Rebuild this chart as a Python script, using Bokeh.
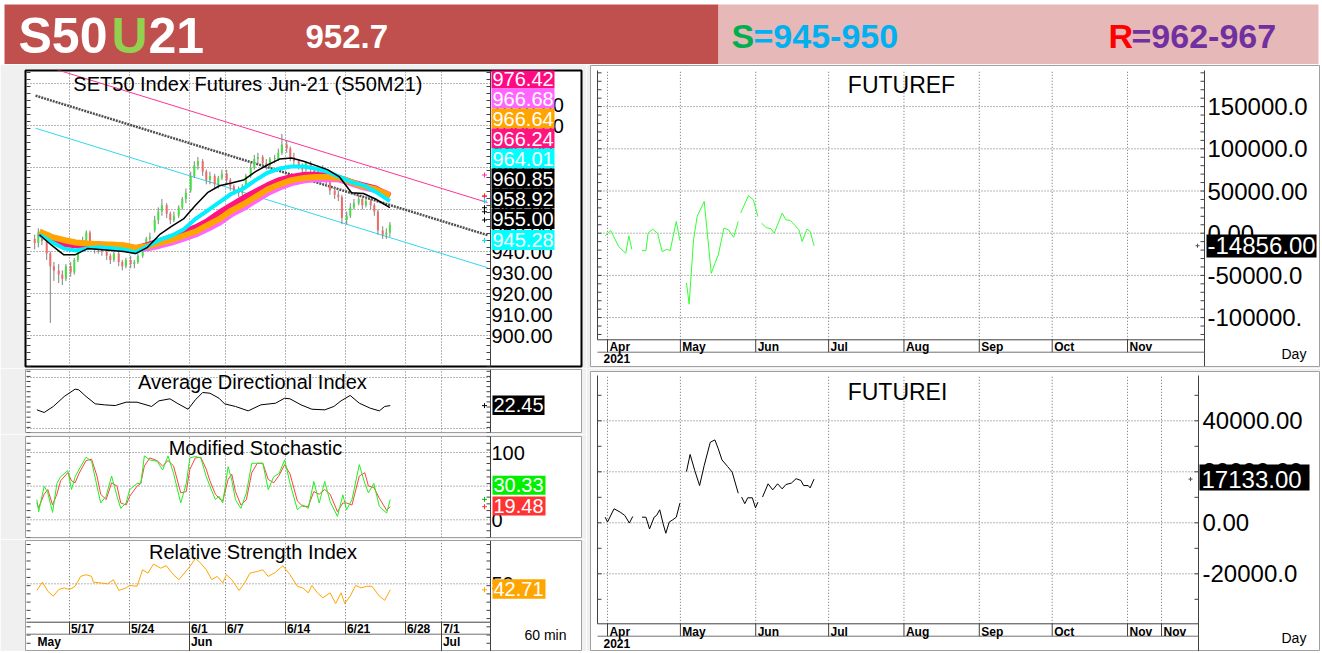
import numpy as np
from bokeh.plotting import figure
from bokeh.models import Range1d
from bokeh.layouts import column, row
from bokeh.embed import file_html
from bokeh.resources import INLINE
from bokeh.core.properties import value

NaN = float("nan")

# ======================= DATA =======================
# ---- header ----
symbol_parts = ["S50", "U", "21"]
last_price = "952.7"
support_lab = ["S", "=945-950"]
resist_lab = ["R", "=962-967"]

# ---- left chart: 60 min bars, x = trading-day index (0 = 5/17) ----
main_title = "SET50  Index  Futures  Jun-21  (S50M21)"
adx_title = "Average  Directional  Index"
sto_title = "Modified  Stochastic"
rsi_title = "Relative  Strength  Index"
interval_lab = "60  min"

date_tick_idx = [0, 5, 10, 13, 18, 23, 28, 31]
date_tick_lab = ["5/17", "5/24", "6/1", "6/7", "6/14", "6/21", "6/28", "7/1"]
month_tick_idx = [10, 31]
month_tick_lab = ["Jun", "Jul"]
first_month_lab = "May"

bar_days = list(range(-3, 27))
bar_slots = [0.1, 0.4, 0.7]
bar_open = [946, 944, 949, 945, 939, 933, 931, 929, 927, 933, 930, 936, 941, 945, 949,
            944, 941, 943, 940, 938, 936, 939, 935, 933, 936, 934, 935, 938, 942, 946,
            950, 955, 959, 962, 958, 955, 957, 961, 965, 969, 976, 981, 983, 978, 974,
            976, 972, 975, 977, 974, 971, 969, 968, 971, 976, 980, 984, 985, 982, 981,
            984, 984, 987, 991, 989, 985, 983, 981, 979, 982, 979, 977, 980, 977, 973,
            969, 967, 966, 955, 957, 961, 963, 965, 962, 964, 962, 959, 950, 948, 949]
bar_high = [948, 951, 950, 946, 940, 935, 934, 931, 934, 935, 937, 942, 947, 950, 950,
            945, 944, 944, 941, 939, 940, 940, 936, 937, 938, 936, 939, 943, 947, 949,
            957, 961, 965, 963, 959, 959, 962, 966, 970, 978, 983, 985, 984, 979, 978,
            977, 976, 979, 979, 975, 972, 971, 972, 977, 982, 986, 987, 986, 984, 985,
            986, 989, 996, 993, 990, 987, 984, 982, 983, 983, 980, 981, 981, 978, 974,
            971, 969, 967, 959, 963, 965, 967, 966, 966, 965, 963, 960, 952, 951, 954]
bar_low = [941, 942, 943, 936, 906, 926, 925, 924, 926, 928, 929, 935, 940, 944, 942,
           939, 939, 938, 936, 934, 935, 933, 931, 932, 932, 932, 934, 937, 941, 944,
           949, 953, 957, 956, 953, 954, 956, 960, 963, 968, 975, 979, 976, 972, 972,
           970, 970, 974, 972, 969, 967, 966, 967, 970, 975, 979, 982, 980, 979, 980,
           982, 983, 986, 987, 983, 981, 979, 977, 978, 977, 975, 976, 975, 971, 967,
           965, 964, 953, 953, 956, 960, 962, 960, 961, 960, 957, 948, 946, 946, 947]
bar_close = [944, 949, 945, 939, 933, 931, 929, 927, 933, 930, 936, 941, 945, 949, 944,
             941, 943, 940, 938, 936, 939, 935, 933, 936, 934, 935, 938, 942, 946, 947,
             955, 959, 962, 958, 955, 957, 961, 965, 968, 976, 981, 983, 978, 974, 976,
             972, 975, 977, 974, 971, 969, 968, 971, 976, 980, 984, 985, 982, 981, 984,
             984.5, 987, 991, 989, 985, 983, 981, 979, 982, 979, 977, 980, 977, 973, 969,
             967, 966, 956, 957, 961, 963, 965, 962, 964, 962, 959, 950, 948, 949, 952.7]

price_ticks = [900, 910, 920, 930, 940, 950, 960, 970, 980, 990, 1000, 1010]
price_grid = [900, 920, 940, 960, 980, 1000, 1020]

chan_x = [-2.83, 34.83]
chan_mid = [1014.2, 947.8]
chan_up = [1029.7, 963.3]
chan_lo = [998.7, 932.3]

ma_days = list(np.arange(-2.5, 25.6, 1.0)) + [26.7]
ma_black = [948, 943, 938.5, 938.5, 941.4, 941, 940.5, 940, 939, 942, 948, 952, 955.5, 962, 968,
            971.3, 972.6, 974, 978, 981.2, 984, 984.5, 983, 981, 979, 975.5, 968, 967.6, 965, 960.85]
ma_cyan = [948, 944.5, 941.5, 940.5, 941.5, 942, 941.5, 941, 939.5, 942.5, 945.5, 947.5, 950.5, 955.5, 959.5,
           963.5, 967.5, 970, 974, 977.5, 979.5, 980.5, 980.5, 979.5, 978, 975.5, 973, 971.5, 968.5, 964.01]
ma_pink = [948.5, 945.5, 943.5, 943, 943, 943.3, 943, 942.5, 941.5, 943, 945, 947, 949, 951.5, 954.5,
           958.5, 962, 965.5, 968.5, 971.5, 974, 975.5, 976.5, 976.5, 976, 975, 973, 971.5, 970, 966.24]
ma_orange = [949.5, 947, 945.5, 944.3, 943.8, 943.5, 943.3, 943, 941.8, 942.5, 944, 945.5, 947.5, 949.5, 952.5,
             955.5, 959.5, 962.5, 966, 969.5, 972, 974, 975, 975.5, 975.5, 975, 973, 971, 969.7, 966.64]
ma_violet = [949, 946.5, 945, 944, 943.3, 943, 942.8, 942.5, 941.3, 941.8, 943, 944.5, 946.3, 948.3, 951,
             954, 958, 961, 964.5, 968, 970.7, 972.8, 974, 974.7, 974.8, 974.5, 972.7, 970.8, 969.5, 966.68]

main_tags = ["976.42", "966.68", "966.64", "966.24", "964.01", "960.85", "958.92", "955.00", "945.28"]
main_tag_colors = ["#FF0A80", "#FF66FF", "#FFA500", "#FF1480", "#00FFFF", "#000000", "#000000", "#000000", "#00FFFF"]
main_arrow_colors = ["#FF3399", "#FF66FF", "#FF8C00", "#FF1480", "#00DDEE", "#000000", "#000000", "#000000", "#00DDEE"]

adx_x = [-2.72, -2.11, -1.35, -0.44, 0.47, 0.77, 1.38, 2.14, 2.90, 3.81, 4.72, 5.63, 6.84, 7.45, 8.37,
         8.97, 9.88, 10.49, 11.10, 11.70, 12.46, 12.92, 13.83, 14.89, 15.95, 17.17, 17.92, 18.38, 19.29,
         20.20, 21.27, 22.03, 22.63, 23.39, 24.15, 25.06, 25.82, 26.27, 26.73]
adx_v = [18.3, 15.7, 21.6, 31.4, 38.6, 37.9, 31.4, 24.2, 23.2, 22.5, 25.8, 25.8, 21.6, 27.1, 29.1,
         24.8, 18.9, 28.1, 35.3, 34.6, 29.7, 24.2, 21.6, 17.3, 23.2, 24.8, 29.7, 29.1, 23.2,
         18.9, 18.3, 21.6, 27.1, 32.4, 24.8, 19.9, 17.3, 21.6, 22.45]
adx_grid = [0, 50]
adx_last = "22.45"

sto_x = [-2.72, -2.57, -2.11, -1.81, -1.41, -1.05, -0.74, -0.14, 0.17, 0.47,
         0.77, 1.38, 1.84, 2.29, 2.60, 3.05, 3.51, 3.96, 4.27, 4.72,
         5.02, 5.63, 5.94, 6.24, 6.69, 7.30, 7.76, 8.21, 8.67, 9.27,
         9.73, 10.03, 10.49, 10.94, 11.40, 11.70, 12.16, 12.46, 12.77, 13.22,
         13.52, 13.83, 14.28, 14.74, 15.19, 15.65, 16.11, 16.56, 17.02, 17.47,
         17.93, 18.38, 18.99, 19.44, 19.90, 20.36, 20.81, 21.27, 21.72, 22.33,
         22.78, 23.09, 23.54, 24.15, 24.61, 24.91, 25.36, 25.82, 26.43, 26.73]
sto_k = [30, 12, 50, 40, 11, 54, 64, 73, 45, 64,
         74, 93, 87, 50, 25, 35, 65, 35, 17, 25,
         45, 54, 54, 95, 89, 87, 74, 95, 69, 25,
         54, 92, 94, 92, 64, 50, 30, 35, 25, 79,
         59, 30, 17, 40, 84, 84, 84, 45, 64, 69,
         89, 54, 15, 22, 17, 57, 25, 57, 27, 5,
         37, 15, 30, 82, 54, 40, 54, 20, 10, 30.33]
sto_d = [25, 18, 38, 45, 22, 38, 58, 70, 58, 55,
         68, 88, 90, 65, 38, 30, 55, 50, 25, 22,
         35, 50, 54, 80, 92, 88, 80, 88, 80, 40,
         42, 75, 92, 93, 75, 58, 38, 32, 28, 60,
         68, 42, 22, 30, 70, 84, 84, 60, 55, 66,
         82, 68, 28, 20, 20, 42, 38, 45, 38, 12,
         25, 25, 22, 65, 70, 50, 48, 32, 14, 19.48]
sto_grid = [0, 50, 100]
sto_ticks = [100, 0]
sto_tags = ["30.33", "19.48"]

rsi_x = [-2.72, -2.26, -1.81, -1.35, -0.90, -0.44, 0.01, 0.47, 0.93, 1.38,
         1.84, 1.99, 2.60, 3.20, 3.66, 4.11, 4.72, 5.02, 5.63, 6.09,
         6.54, 7.00, 7.60, 8.06, 8.67, 9.12, 9.58, 10.03, 10.49, 10.94,
         11.40, 11.85, 12.31, 12.77, 13.07, 13.52, 14.13, 14.59, 15.04, 15.65,
         16.11, 16.56, 17.17, 17.78, 18.38, 18.99, 19.44, 19.90, 20.20, 20.66,
         21.11, 21.72, 22.18, 22.63, 22.94, 23.39, 23.85, 24.30, 24.76, 25.21,
         25.82, 26.27, 26.73]
rsi_v = [42, 52, 41, 35, 43, 45, 43, 47, 59, 61,
         59, 52, 51, 50, 55, 42, 45, 48, 47, 67,
         63, 74, 69, 72, 61, 55, 63, 71, 81, 75,
         67, 55, 59, 51, 61, 55, 42, 51, 63, 65,
         67, 59, 64, 72, 61, 47, 45, 39, 48, 39,
         33, 39, 26, 39, 26, 35, 48, 45, 47, 47,
         35, 30, 42.71]
rsi_grid = [50]
rsi_ticks = [50]
rsi_last = "42.71"

# ---- right charts: daily, x = days since 2021-04-01 ----
fut_month_days = [0, 30, 61, 91, 122, 153, 183, 214]
fut_month_lab = ["Apr", "May", "Jun", "Jul", "Aug", "Sep", "Oct", "Nov"]
futi_extra_month_days = [228]
futi_extra_month_lab = ["Nov"]
year_lab = "2021"
period_lab = "Day"

futf_title = "FUTUREF"
futf_day = [-0.96, 1.35, 4.6, 7.5, 8.8, 10.0, NaN,
            14.2, 15.8, 16.7, 18.6, 20.6, 22.5, 24.4, 25.8, 28.3, 29.8, NaN,
            32.5, 33.6, 35.4, 36.9, 39.8, 42.7, 44.2, 45.6, 47.9, 49.8, 51.9, 53.8, NaN,
            54.8, 58.0, 60.0, 61.9, NaN,
            63.4, 65.3, 67.3, 68.6, 71.9, 73.4, 75.3, 77.3, 78.8, 80.1, 82.1, 83.4, 85.0]
futf_val = [-3200, 3200, -15900, -23800, -3200, -19000, NaN,
            -20600, -20600, 0, 4800, 0, -21800, -19000, -20600, 13900, -8700, NaN,
            -58700, -84100, -7900, 19800, 37700, -47600, -35700, -25800, 6000, 4000, -4800, 13900, NaN,
            23800, 44400, 39700, 19800, NaN,
            11900, 6700, 5200, 0, 23800, 15900, 15100, 8700, 4000, -9900, 4800, 2000, -14856]
futf_ticks = [150000, 100000, 50000, 0, -50000, -100000]
futf_tick_lab = ["150000.0", "100000.0", "50000.00", "0.00", "-50000.0", "-100000."]
futf_last = -14856.00
futf_last_lab = "-14856.00"

futi_title = "FUTUREI"
futi_day = [-0.96, 0.0, 2.7, 5.2, 7.1, 9.0, 10.4, NaN,
            14.2, 15.8, 17.3, 19.2, 20.2, 21.5, 22.9, 24.0, 25.4, 26.9, 28.3, 29.8, NaN,
            32.5, 34.0, 35.9, 37.9, 39.8, 42.3, 44.2, 45.6, 47.1, 49.4, 51.3, 53.8, NaN,
            55.2, 56.5, 57.7, 59.6, 60.9, 61.9, NaN,
            63.8, 66.1, 68.0, 70.0, 71.9, 73.4, 75.7, 77.6, 79.6, 80.7, 82.6, 83.4, 85.0]
futi_val = [2200, 300, 5500, 4200, 2900, -100, 2500, NaN,
            2200, 2200, -2400, 2200, 2900, 5100, -400, -4100, 300, 1200, 2200, 7700, NaN,
            20100, 26800, 20500, 14600, 22500, 31600, 32500, 29000, 24700, 22100, 19900, 11600, NaN,
            10100, 7500, 9800, 9800, 5900, 8100, NaN,
            10100, 15300, 12900, 15300, 13300, 15000, 15600, 17300, 16600, 14600, 14600, 13700, 17133]
futi_ticks = [40000, 20000, 0, -20000]
futi_tick_lab = ["40000.00", "20000.00", "0.00", "-20000.0"]
futi_last = 17133.00
futi_last_lab = "17133.00"

# ======================= LAYOUT / STYLE =======================
OX, OY = 0, 0            # page origin (the page renders without a body margin)
PR, PB = 1320, 651       # right / bottom page edge
FONT = "Liberation Sans"
GRID = "#6E6E6E"
AXC = "#404040"
PANEL_BG = "#F0F0F0"


def mk(w, h, xr, yr, bl, br, bt, bb, outline="#A0A0A0", ow=1):
    return figure(width=w, height=h, x_range=Range1d(*xr), y_range=Range1d(*yr),
                  x_axis_type=None, y_axis_type=None, toolbar_location=None,
                  output_backend="svg", title=None,
                  min_border_left=bl, min_border_right=br, min_border_top=bt, min_border_bottom=bb,
                  background_fill_color="white", border_fill_color=PANEL_BG,
                  outline_line_color=outline, outline_line_width=ow)


def txt(p, xs, ys, ts, size, color="black", align="left", base="middle", style="normal"):
    p.text(x=list(xs), y=list(ys), text=list(ts), text_font=value(FONT), text_font_size=size,
           text_color=color, text_align=align, text_baseline=base, text_font_style=style)


def seg(p, x0, y0, x1, y1, color, width=1, dash="solid"):
    p.segment(x0=list(x0), y0=list(y0), x1=list(x1), y1=list(y1),
              line_color=color, line_width=width, line_dash=dash)


# ---------------- header ----------------
hdr = figure(width=PR - OX, height=64 - OY, x_range=Range1d(OX, PR), y_range=Range1d(64, OY),
             x_axis_type=None, y_axis_type=None, toolbar_location=None, output_backend="svg",
             title=None, min_border_left=0, min_border_right=0, min_border_top=0, min_border_bottom=0,
             background_fill_color="white", border_fill_color="white", outline_line_color=None)
hdr.quad(left=[4, 718], right=[718, 1318], top=[4, 4], bottom=[64, 64],
         fill_color=["#C0504D", "#E6B8B7"], line_color=None)
txt(hdr, [18, 111, 148], [35, 35, 35], symbol_parts, "50px",
    color=["white", "#92D050", "white"], style="bold")
txt(hdr, [305], [36], [last_price], "33px", "white", style="bold")
txt(hdr, [731, 753], [35, 35], support_lab, "34px", ["#00B050", "#00B0F0"], style="bold")
txt(hdr, [1108, 1131], [35, 35], resist_lab, "34px", ["#FF0000", "#7030A0"], style="bold")

# ---------------- left panels ----------------
LW = 586 - OX


def mxp(px):
    return (px - 69.0) / 12.0


XR_L = (mxp(25), mxp(581))
nd = len(date_tick_idx)


def left_common(p, yconv, top_px, bot_px, grid_bot_px, hgrid, tick_step):
    yb, yt = yconv(bot_px), yconv(top_px)
    gb = yconv(grid_bot_px)
    seg(p, date_tick_idx, [gb] * nd, date_tick_idx, [yt] * nd, GRID, 1, "1 2")
    seg(p, [mxp(27)] * len(hgrid), hgrid, [mxp(490)] * len(hgrid), hgrid, GRID, 1, "1 2")
    seg(p, [mxp(490)], [yb], [mxp(490)], [yt], AXC)
    lo, hi = min(yb, yt), max(yb, yt)
    tk = list(np.arange(lo, hi, tick_step))
    seg(p, [mxp(26)] * len(tk), tk, [mxp(30)] * len(tk), tk, AXC)
    seg(p, [mxp(486)] * len(tk), tk, [mxp(490)] * len(tk), tk, AXC)


def tag_boxes(p, yconv, x0px, x1px, tops_px, bots_px, colors, labels, ys_px, tcolor="white"):
    p.quad(left=[mxp(x0px)] * len(labels), right=[mxp(x1px)] * len(labels),
           top=[yconv(t) for t in tops_px], bottom=[yconv(b) for b in bots_px],
           fill_color=colors, line_color=None)
    txt(p, [mxp(x0px + 1)] * len(labels), [yconv(y) for y in ys_px], labels, "20px", tcolor)


# ---- main price chart ----
def myp(py):
    return 900.0 + (335.0 - py) / 2.1


main = mk(LW, 304, XR_L, (myp(366), myp(70)), 25 - OX, 5, 6, 2, "black", 2)
left_common(main, myp, 70, 366, 366, price_grid, 10 / 3.0)
main.line(chan_x, chan_up, line_color="#FF3399", line_width=1)
main.line(chan_x, chan_lo, line_color="#33D6F0", line_width=1)
main.line(chan_x, chan_mid, line_color="#505050", line_width=2.5, line_dash="2 1")

bx = list(np.repeat(bar_days, len(bar_slots)) + np.tile(bar_slots, len(bar_days)))
bcol = ["#44E044" if c > o else ("#F06A6A" if c < o else "#888888") for o, c in zip(bar_open, bar_close)]
main.segment(x0=bx, y0=bar_low, x1=bx, y1=bar_high, line_color="#808080", line_width=1)
main.segment(x0=bx, y0=bar_open, x1=bx, y1=bar_close, line_color=bcol, line_width=2)

main.line(ma_days, ma_violet, line_color="#FF66FF", line_width=7)
main.line(ma_days, ma_pink, line_color="#FF1480", line_width=6)
main.line(ma_days, ma_orange, line_color="#FFA500", line_width=6)
main.line(ma_days, ma_cyan, line_color="#00F0FF", line_width=4)
main.line(ma_days, ma_black, line_color="black", line_width=1.5)

txt(main, [mxp(491)] * len(price_ticks), price_ticks, ["%.2f" % v for v in price_ticks], "20px")
tag_ctr = [78, 98, 118, 138, 158, 178, 198, 218.5, 239.5]
tag_boxes(main, myp, 491, 554, [c - 10 for c in tag_ctr], [c + 10 for c in tag_ctr],
          main_tag_colors, main_tags, tag_ctr)
main.scatter([mxp(484)] * len(main_tags), [float(t) for t in main_tags], marker="cross", size=5,
             line_color=main_arrow_colors)
txt(main, [mxp(258.5)], [myp(83.5)], [main_title], "20px", align="center")


# ---- ADX ----
def ayp(py):
    return (428.0 - py) / 1.02


adx = mk(LW, 66, XR_L, (ayp(432), ayp(369)), 25 - OX, 5, 1, 2)
left_common(adx, ayp, 369, 432, 432, adx_grid, 5)
adx.line(adx_x, adx_v, line_color="black", line_width=1)
tag_boxes(adx, ayp, 492, 544, [395], [414.5], ["black"], [adx_last], [404.8])
adx.scatter([mxp(484)], [float(adx_last)], marker="cross", size=5, line_color="black")
txt(adx, [mxp(257.5)], [ayp(381)], [adx_title], "20px", align="center")


# ---- Stochastic ----
def syp(py):
    return (519.3 - py) / 0.673


sto = mk(LW, 105, XR_L, (syp(537), syp(436)), 25 - OX, 5, 2, 2)
left_common(sto, syp, 436, 537, 537, sto_grid, 10)
sto.line(sto_x, sto_d, line_color="#FF4040", line_width=1)
sto.line(sto_x, sto_k, line_color="#22EE22", line_width=1)
txt(sto, [mxp(491)] * len(sto_ticks), sto_ticks, [str(v) for v in sto_ticks], "20px")
tag_boxes(sto, syp, 492, 545, [475.3, 496], [494.3, 515], ["#00F000", "#FF3333"], sto_tags, [484.8, 505.5])
sto.scatter([mxp(484)] * 2, [float(t) for t in sto_tags], marker="cross", size=5,
            line_color=["#00C000", "#FF3333"])
txt(sto, [mxp(257.7)], [syp(447)], [sto_title], "20px", align="center")


# ---- RSI + date axis ----
def ryp(py):
    return 50.0 + (583.3 - py) / 0.823


rsi = mk(LW, PB - 539, XR_L, (ryp(PB), ryp(540)), 25 - OX, 5, 1, 0)
left_common(rsi, ryp, 540, PB, 621.7, rsi_grid, 10)
rsi.line(rsi_x, rsi_v, line_color="#FFA500", line_width=1)
txt(rsi, [mxp(491)] * len(rsi_ticks), rsi_ticks, [str(v) for v in rsi_ticks], "20px")
tag_boxes(rsi, ryp, 492, 545, [578.7], [598.3], ["#FFA500"], [rsi_last], [588.5])
rsi.scatter([mxp(484)], [float(rsi_last)], marker="cross", size=5, line_color="#FFA500")
txt(rsi, [mxp(258)], [ryp(551.5)], [rsi_title], "20px", align="center")
# date axis band
ya, ys = ryp(621.7), ryp(633.7)
seg(rsi, [mxp(26)], [ya], [mxp(490)], [ya], AXC)
seg(rsi, [mxp(26)], [ys], [mxp(490)], [ys], "#707070")
seg(rsi, date_tick_idx, [ya] * nd, date_tick_idx, [ys] * nd, AXC)
seg(rsi, month_tick_idx, [ys] * len(month_tick_idx), month_tick_idx, [ryp(PB)] * len(month_tick_idx), AXC)
txt(rsi, [d + 0.12 for d in date_tick_idx], [ryp(628.5)] * nd, date_tick_lab, "12px", style="bold")
txt(rsi, [mxp(37)] + [d + 0.12 for d in month_tick_idx], [ryp(641)] * (1 + len(month_tick_idx)),
    [first_month_lab] + month_tick_lab, "12px", style="bold")
txt(rsi, [mxp(524)], [ryp(634)], [interval_lab], "14px")

# ---------------- right panels ----------------
RW = PR - 586


def fxp(px):
    return (px - 607.0) / 2.43


XR_R = (fxp(590), fxp(PR))


def right_common(p, yconv, top_px, axis_px, sep_px, bot_px, yaxis_px, ticks, tick_lab, lab_px,
                 month_days, month_lab, month_px, year_px, day_px, title, title_px, tick_step):
    yt, yb = yconv(top_px), yconv(bot_px)
    ya, ysp = yconv(axis_px), yconv(sep_px)
    n = len(month_days)
    seg(p, month_days, [ya] * n, month_days, [yt] * n, GRID, 1, "1 2")
    seg(p, [fxp(597)] * len(ticks), ticks, [fxp(yaxis_px)] * len(ticks), ticks, GRID, 1, "1 2")
    seg(p, [fxp(597)], [ya], [fxp(597)], [yt], AXC)
    seg(p, [fxp(yaxis_px)], [yb], [fxp(yaxis_px)], [yt], AXC)
    seg(p, [fxp(597)], [ya], [fxp(yaxis_px)], [ya], AXC)
    seg(p, [fxp(597)], [ysp], [fxp(yaxis_px)], [ysp], "#707070")
    seg(p, month_days, [ya] * n, month_days, [ysp] * n, AXC)
    lo, hi = min(ya, yt), max(ya, yt)
    tk = list(np.arange(0, hi, tick_step)) + list(np.arange(-tick_step, lo, -tick_step))
    seg(p, [fxp(597)] * len(tk), tk, [fxp(601)] * len(tk), tk, AXC)
    seg(p, [fxp(yaxis_px - 4)] * len(tk), tk, [fxp(yaxis_px)] * len(tk), tk, AXC)
    txt(p, [fxp(lab_px)] * len(ticks), ticks, tick_lab, "24px")
    txt(p, [d + 0.8 for d in month_days], [yconv(month_px)] * n, month_lab, "12px", style="bold")
    txt(p, [fxp(603)], [yconv(year_px)], [year_lab], "12px", style="bold")
    txt(p, [fxp(1281)], [yconv(day_px)], [period_lab], "14px")
    txt(p, [fxp(title_px[0])], [yconv(title_px[1])], [title], "23px", align="center")


# ---- FUTUREF ----
def fyp(py):
    return (232.7 - py) * 50000 / 42.2


futf = mk(RW, 304, XR_R, (fyp(366), fyp(65)), 4, 0, 1, 2)
right_common(futf, fyp, 70, 339.3, 351.7, 366, 1204, futf_ticks, futf_tick_lab, 1207,
             fut_month_days, fut_month_lab, 346, 358, 353, futf_title, (901, 84.5), 10000)
futf.line(futf_day, futf_val, line_color="#33FF33", line_width=1)
futf.quad(left=[fxp(1206)], right=[fxp(1316)], top=[fyp(234)], bottom=[fyp(257)],
          fill_color="black", line_color=None)
txt(futf, [fxp(1207)], [futf_last], [futf_last_lab], "24px", "white")
futf.scatter([fxp(1197)], [futf_last], marker="cross", size=4, line_color="#505050")


# ---- FUTUREI ----
def gyp(py):
    return (522.3 - py) * 20000 / 51.0


futi = mk(RW, PB - 368, XR_R, (gyp(PB), gyp(371)), 4, 0, 3, 0)
right_common(futi, gyp, 375, 623.3, 635.7, PB, 1198, futi_ticks, futi_tick_lab, 1202,
             fut_month_days + futi_extra_month_days, fut_month_lab + futi_extra_month_lab,
             631, 642.7, 637, futi_title, (897, 391.7), 10000)
futi.line(futi_day, futi_val, line_color="black", line_width=1)
futi.quad(left=[fxp(1199)], right=[fxp(1309)], top=[gyp(464)], bottom=[gyp(490)],
          fill_color="black", line_color=None)
txt(futi, [fxp(1201)], [futi_last], [futi_last_lab], "24px", "white")
futi.scatter([fxp(1190)], [futi_last], marker="cross", size=4, line_color="#505050")

# ---------------- assemble ----------------
page = column(hdr, row(column(main, adx, sto, rsi), column(futf, futi)))
open("out.html", "w").write(file_html(page, INLINE, "S50U21"))
